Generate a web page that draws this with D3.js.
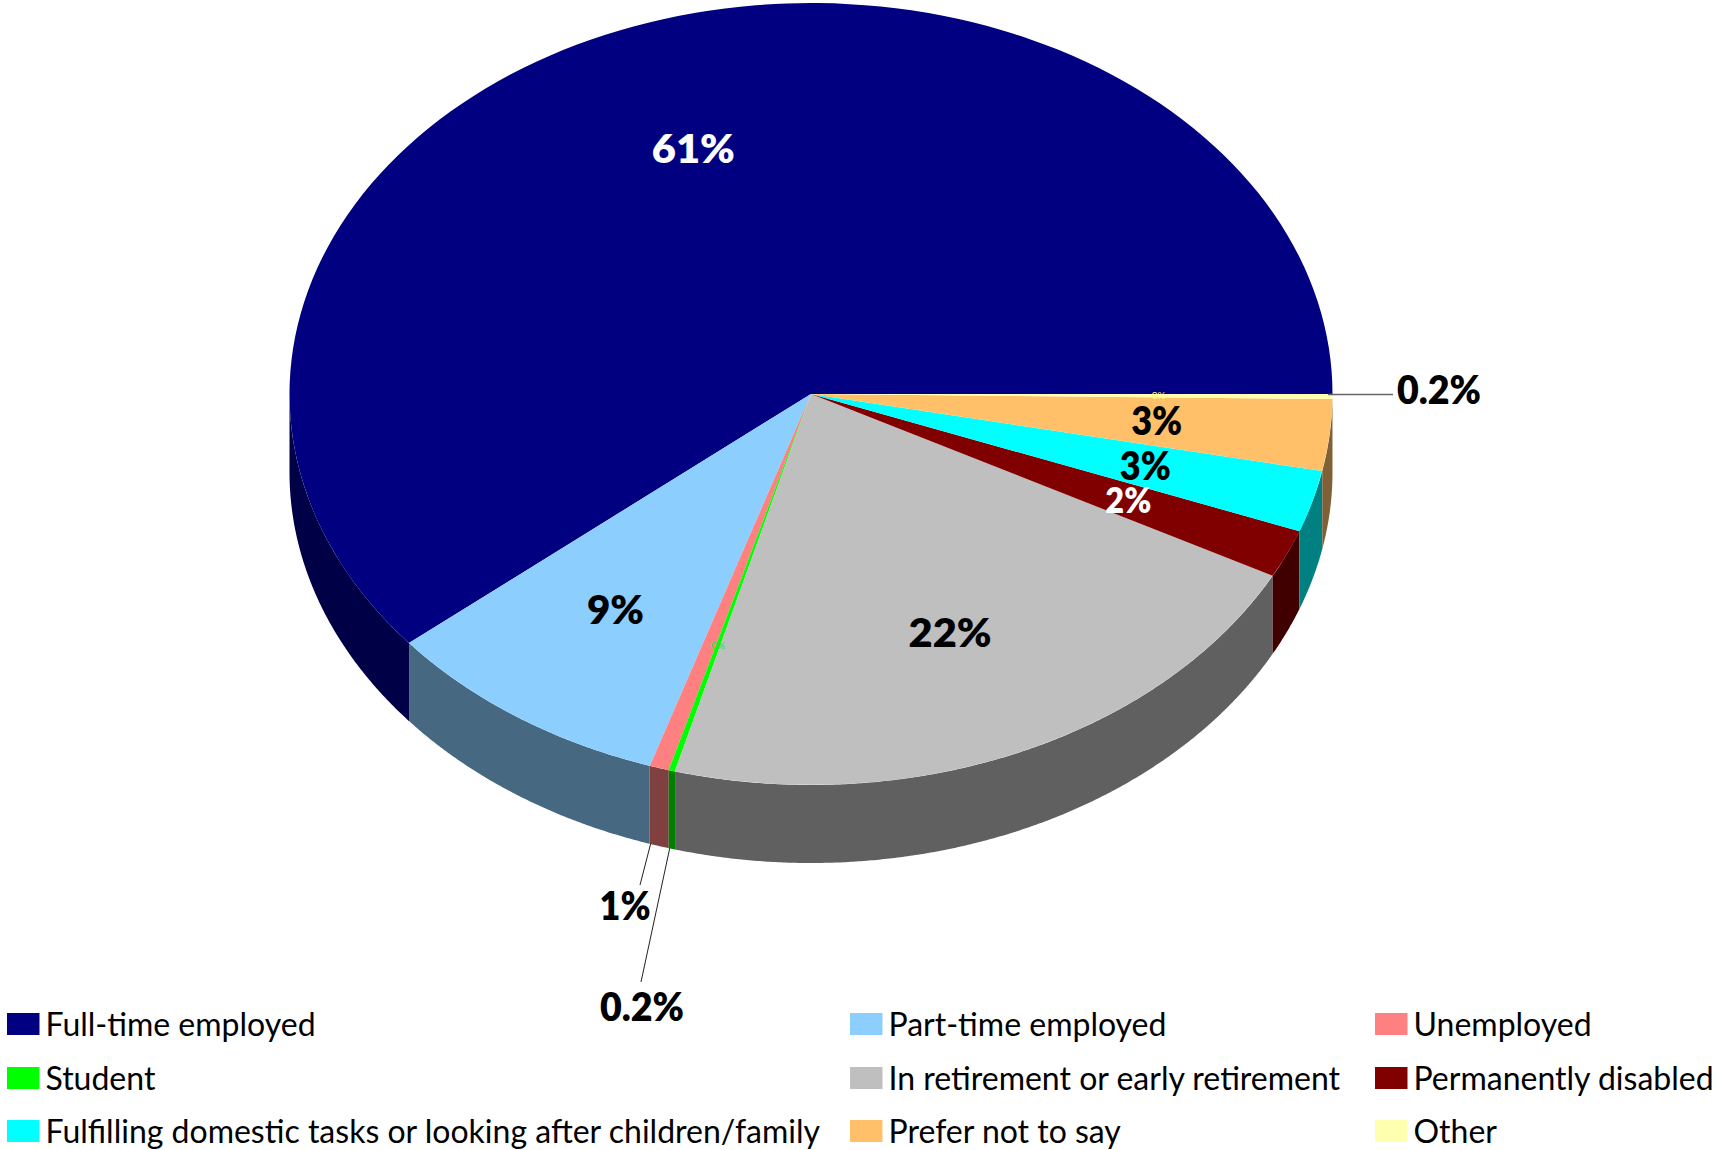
<!DOCTYPE html>
<html>
<head>
<meta charset="utf-8">
<script src="https://cdnjs.cloudflare.com/ajax/libs/d3/7.8.5/d3.min.js"></script>
<style>
  html, body { margin: 0; padding: 0; background: #fff; }
  svg { display: block; }
  text { font-family: Lato, "Open Sans", sans-serif; }
</style>
</head>
<body>
<div class="board"></div>
<script>
const categories = ["Full-time employed", "Part-time employed", "Unemployed", "Student",
    "In retirement or early retirement", "Permanently disabled",
    "Fulfilling domestic tasks or looking after children/family", "Prefer not to say", "Other"]
const values = [61.0, 9.0, 0.61, 0.2, 21.5, 2.0, 2.55, 2.95, 0.2]
const labels = ["61%", "9%", "1%", "0.2%", "22%", "2%", "3%", "3%", "0.2%"]
const topColors = ["#000080", "#8ccfff", "#ff8080", "#00ff00", "#bfbfbf", "#800000", "#00ffff", "#ffc069", "#ffffb0"]
const wallColors = ["#000046", "#466880", "#804040", "#008000", "#606060", "#400000", "#008080", "#806035", "#808058"]

const width = 1718, height = 1150
const cx = 811, cy = 394, rx = 521.5, ry = 391, depth = 78

const svg = d3.select(".board").append("svg")
    .attr("width", width)
    .attr("height", height)

const xScale = d3.scaleLinear().domain([-1, 1]).range([cx - rx, cx + rx])
const yScale = d3.scaleLinear().domain([-1, 1]).range([cy - ry, cy + ry])

// excel drew this one counter clockwise from 3 o'clock
const pie = d3.pie().sort(null).startAngle(Math.PI / 2).endAngle(Math.PI / 2 - 2 * Math.PI)
const arcs = pie(values)

const rimX = a => xScale(Math.sin(a))
const rimY = a => yScale(-Math.cos(a))

// side walls, only the front half of the ellipse shows
const frontStart = -Math.PI / 2, frontEnd = -3 * Math.PI / 2
function wallPath(d) {
    const a0 = Math.min(d.startAngle, frontStart)
    const a1 = Math.max(d.endAngle, frontEnd)
    if (a0 <= a1) return null
    const steps = d3.range(a0, a1, -0.005).concat([a1])
    const top = steps.map(a => [rimX(a), rimY(a)])
    const bottom = steps.slice().reverse().map(a => [rimX(a), rimY(a) + depth])
    return d3.line()(top.concat(bottom)) + "Z"
}

svg.selectAll(".wall")
    .data(arcs)
    .enter()
    .append("path")
    .attr("class", "wall")
    .attr("fill", (d, i) => wallColors[i])
    .attr("d", wallPath)

const arc = d3.arc().innerRadius(0).outerRadius(1)

svg.selectAll(".slice")
    .data(arcs)
    .enter()
    .append("path")
    .attr("class", "slice")
    .attr("fill", (d, i) => topColors[i])
    .attr("transform", `translate(${cx}, ${cy}) scale(${rx}, ${ry})`)
    .attr("d", arc)

// data labels sit at 2/3 of the radius
const labelArc = d3.arc().innerRadius(2 / 3).outerRadius(2 / 3)
const labelFont = 39
const inside = [0, 1, 4, 5, 6, 7]
const whiteLabels = [0, 5]
// lato is wider than the original font, so squeeze to the measured widths
const labelWidths = { "61%": 83, "9%": 57, "22%": 83, "3%": 51, "2%": 46, "1%": 51, "0.2%": 84 }

svg.selectAll(".label")
    .data(inside)
    .enter()
    .append("text")
    .attr("class", "label")
    .attr("x", i => cx + labelArc.centroid(arcs[i])[0] * rx)
    .attr("y", i => cy + labelArc.centroid(arcs[i])[1] * ry)
    .attr("dy", "0.36em")
    .attr("text-anchor", "middle")
    .attr("font-size", i => i == 5 ? labelFont - 4 : labelFont)
    .attr("font-weight", 800)
    .attr("textLength", i => labelWidths[labels[i]])
    .attr("lengthAdjust", "spacingAndGlyphs")
    .attr("fill", i => whiteLabels.includes(i) ? "#fff" : "#000")
    .text(i => labels[i])

// tiny leftover labels in the slice colour
svg.selectAll(".tiny")
    .data([3, 8])
    .enter()
    .append("text")
    .attr("class", "tiny")
    .attr("x", i => cx + labelArc.centroid(arcs[i])[0] * rx)
    .attr("y", i => cy + labelArc.centroid(arcs[i])[1] * ry)
    .attr("dy", "0.36em")
    .attr("text-anchor", "middle")
    .attr("font-size", 10)
    .attr("fill", i => i == 3 ? "#33e033" : "#ffff80")
    .text("0%")

// callouts for the slices too thin to hold a label
svg.selectAll(".leader")
    .data([
        { slice: 2, x2: 640, y2: 885 },
        { slice: 3, x2: 641, y2: 982 }
    ])
    .enter()
    .append("line")
    .attr("class", "leader")
    .attr("x1", d => rimX(arcs[d.slice].startAngle) + 1)
    .attr("y1", d => rimY(arcs[d.slice].startAngle) + depth)
    .attr("x2", d => d.x2)
    .attr("y2", d => d.y2)
    .attr("stroke", "#222")
    .attr("stroke-width", 1)

svg.append("line")
    .attr("class", "leader")
    .attr("x1", 1328)
    .attr("y1", 394.5)
    .attr("x2", 1393)
    .attr("y2", 394.5)
    .attr("stroke", "#666")
    .attr("stroke-width", 1.5)

const callouts = [
    { slice: 2, textX: 625, textY: 906 },
    { slice: 3, textX: 642, textY: 1007 },
    { slice: 8, textX: 1439, textY: 390 }
]

svg.selectAll(".callout")
    .data(callouts)
    .enter()
    .append("text")
    .attr("class", "callout")
    .attr("x", d => d.textX)
    .attr("y", d => d.textY)
    .attr("dy", "0.36em")
    .attr("text-anchor", "middle")
    .attr("font-size", labelFont)
    .attr("font-weight", 800)
    .attr("textLength", d => labelWidths[labels[d.slice]])
    .attr("lengthAdjust", "spacingAndGlyphs")
    .attr("fill", "#000")
    .text(d => labels[d.slice])

// legend, three columns by three rows
const legendCols = [7, 850, 1375]
const legendRows = [1024, 1078, 1131]

const legend = svg.selectAll(".legend")
    .data(categories)
    .enter()
    .append("g")
    .attr("class", "legend")
    .attr("transform", (d, i) => `translate(${legendCols[i % 3]}, ${legendRows[Math.floor(i / 3)]})`)

legend.append("rect")
    .attr("x", 0)
    .attr("y", -11)
    .attr("width", 32.5)
    .attr("height", 22)
    .attr("fill", (d, i) => topColors[i])

legend.append("text")
    .attr("x", 38.5)
    .attr("dy", "0.36em")
    .attr("font-size", 32)
    .attr("fill", "#000")
    .text(d => d)
</script>
</body>
</html>
